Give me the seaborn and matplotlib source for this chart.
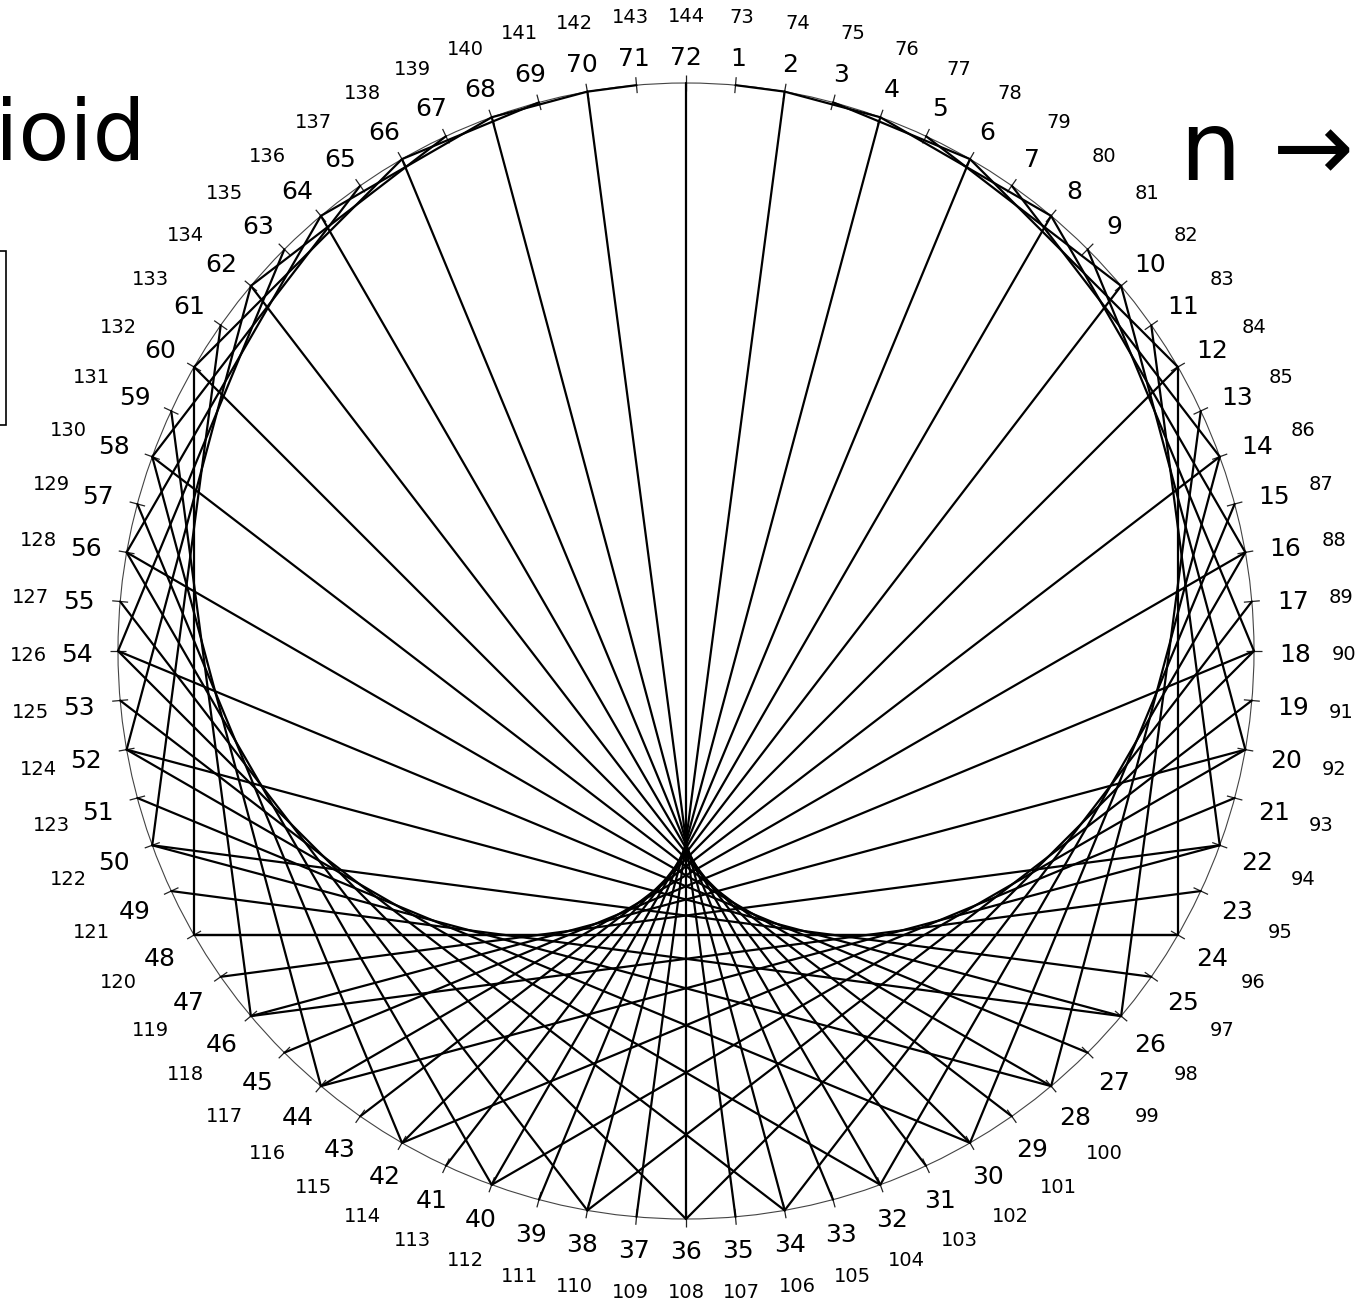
import numpy as np
import pandas as pd
import matplotlib
matplotlib.use("Agg")
import matplotlib.pyplot as plt
import seaborn as sns
from matplotlib.patches import Rectangle, Circle
from matplotlib.collections import LineCollection

# times table: point k is joined to point 2k (mod 72)
n_points = 72
multiplier = 2
inner_labels = list(range(1, 73))
outer_labels = list(range(73, 145))
title_text = "Cardioid"
rule_text = "n \u2192 2n"

# layout in pixels
CX, CY, R = 686, 651, 568
LABEL_DY = 4


def pos(k, r):
    t = 2 * np.pi * k / n_points
    return CX + r * np.sin(t), CY - r * np.cos(t)


rows = []
for k in inner_labels:
    j = (multiplier * k) % n_points
    x0, y0 = pos(k, R)
    x1, y1 = pos(j, R)
    rows.append({"chord": k, "x": x0, "y": y0, "step": 0})
    rows.append({"chord": k, "x": x1, "y": y1, "step": 1})
chords = pd.DataFrame(rows)

sns.set_theme(style="white")
plt.rcParams['font.family'] = ['DejaVu Sans']

fig = plt.figure(figsize=(13.6, 13.09), dpi=100)
ax = fig.add_axes([0, 0, 1, 1])

# circle and tick marks
ax.add_patch(Circle((CX, CY), R, fill=False, edgecolor='#444444', lw=0.8))
ticks = [[pos(k, R - 8), pos(k, R + 8)] for k in inner_labels]
ax.add_collection(LineCollection(ticks, colors='#222222', linewidths=0.9))

# chords
sns.lineplot(data=chords, x="x", y="y", units="chord", estimator=None,
             sort=False, color="black", lw=1.6, legend=False, ax=ax)
ax.set_xlim(0, 1360)
ax.set_ylim(1309, 0)
ax.axis('off')

# labels
for k in inner_labels:
    t = 2 * np.pi * k / n_points
    x, y = pos(k, 597 + 12 * abs(np.sin(t)))
    ax.text(x, y + LABEL_DY, str(k), fontsize=18, ha='center', va='center', color='black')
for k in outer_labels:
    t = 2 * np.pi * k / n_points
    x, y = pos(k, 638 + 20 * abs(np.sin(t)))
    ax.text(x, y + LABEL_DY, str(k), fontsize=14, ha='center', va='center', color='black')

# titles, partly off the page as in the original crop
ax.text(146, 160, title_text, fontsize=60, ha='right', va='baseline', color='black')
ax.text(1180, 180, rule_text, fontsize=70, ha='left', va='baseline', color='black')
ax.add_patch(Rectangle((-300, 251), 306, 174, fill=False, edgecolor='black', lw=1.2,
                       clip_on=False))

fig.savefig("out.png", dpi=100)
